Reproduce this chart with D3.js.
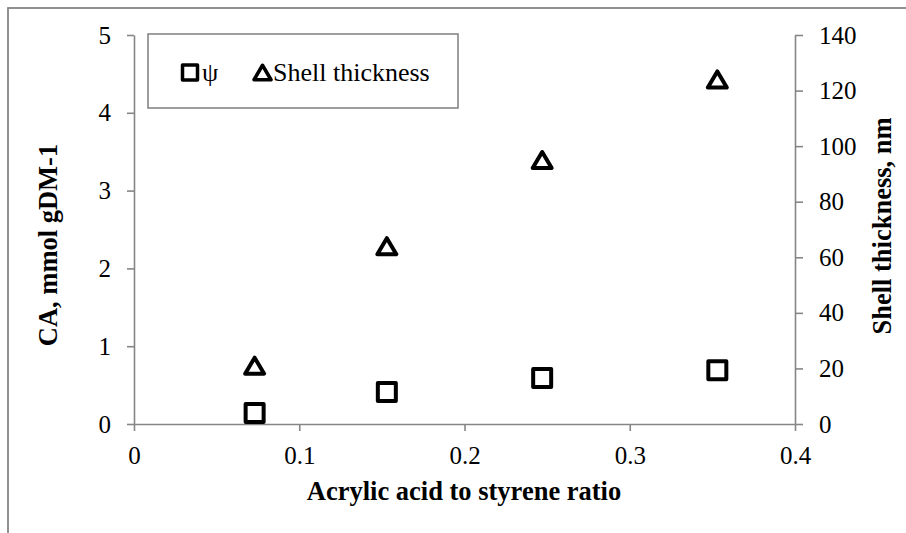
<!DOCTYPE html>
<html>
<head>
<meta charset="utf-8">
<script src="https://cdn.jsdelivr.net/npm/d3@7"></script>
<style>
  html, body { margin: 0; padding: 0; background: #fff; }
  svg { display: block; }
  text { font-family: "Liberation Serif", "Times New Roman", serif; }
</style>
</head>
<body>
<svg id="chart" width="906" height="533"></svg>
<script>
// Acrylic acid : styrene ratio of each sample
const ratios = [0.073, 0.153, 0.247, 0.353];
// ψ, CA in mmol gDM-1 (left axis)
const psiValues = [0.14, 0.41, 0.59, 0.69];
// Shell thickness in nm (right axis)
const shellValues = [21, 64, 95, 124];

const xTicks = [0, 0.1, 0.2, 0.3, 0.4];
const leftTicks = [0, 1, 2, 3, 4, 5];
const rightTicks = [0, 20, 40, 60, 80, 100, 120, 140];

const serif = "Liberation Serif";
const axisGrey = "#868686";

const svg = d3.select("#chart");

// outer chart frame
svg.append("rect")
  .attr("x", 8).attr("y", 8)
  .attr("width", 1000).attr("height", 1000)
  .attr("fill", "#fff")
  .attr("stroke", axisGrey)
  .attr("stroke-width", 1.8);

const x = d3.scaleLinear().domain([0, 0.4]).range([134, 795]);
const yL = d3.scaleLinear().domain([0, 5]).range([424, 35]);
const yR = d3.scaleLinear().domain([0, 140]).range([424, 35]);

function styleAxis(g) {
  g.attr("font-family", serif).attr("font-size", 25);
  g.selectAll("path, line").attr("stroke", axisGrey).attr("stroke-width", 1.6);
  g.selectAll("text").attr("fill", "#000");
}

svg.append("g")
  .attr("transform", `translate(0,${yL(0)})`)
  .call(d3.axisBottom(x).tickValues(xTicks).tickFormat(d3.format("~g"))
    .tickSize(7).tickSizeOuter(0).tickPadding(15))
  .call(styleAxis);

svg.append("g")
  .attr("transform", `translate(${x(0)},0)`)
  .call(d3.axisLeft(yL).tickValues(leftTicks).tickFormat(d3.format("d"))
    .tickSize(7).tickSizeOuter(0).tickPadding(16))
  .call(styleAxis);

svg.append("g")
  .attr("transform", `translate(${x(0.4)},0)`)
  .call(d3.axisRight(yR).tickValues(rightTicks).tickFormat(d3.format("d"))
    .tickSize(8).tickSizeOuter(0).tickPadding(16))
  .call(styleAxis);

// axis titles
svg.append("text")
  .attr("x", 464).attr("y", 500)
  .attr("text-anchor", "middle")
  .attr("font-family", serif).attr("font-weight", "bold").attr("font-size", 26.5)
  .text("Acrylic acid to styrene ratio");

svg.append("text")
  .attr("transform", "translate(57,245) rotate(-90)")
  .attr("text-anchor", "middle")
  .attr("font-family", serif).attr("font-weight", "bold").attr("font-size", 26.5)
  .text("CA, mmol gDM-1");

svg.append("text")
  .attr("transform", "translate(891,226) rotate(-90)")
  .attr("text-anchor", "middle")
  .attr("font-family", serif).attr("font-weight", "bold").attr("font-size", 26.5)
  .text("Shell thickness, nm");

// marker shapes
function squarePath(s) {
  const h = s / 2;
  return `M${-h},${-h}H${h}V${h}H${-h}Z`;
}
function trianglePath(w, h) {
  return `M0,${-h / 2}L${w / 2},${h / 2}L${-w / 2},${h / 2}Z`;
}

const points = ratios.map((r, i) => ({ r, psi: psiValues[i], shell: shellValues[i] }));

svg.append("g").selectAll("path")
  .data(points)
  .join("path")
  .attr("transform", d => `translate(${x(d.r)},${yL(d.psi)})`)
  .attr("d", squarePath(18))
  .attr("fill", "none")
  .attr("stroke", "#000")
  .attr("stroke-width", 4)
  .attr("stroke-linejoin", "round");

svg.append("g").selectAll("path")
  .data(points)
  .join("path")
  .attr("transform", d => `translate(${x(d.r)},${yR(d.shell)})`)
  .attr("d", trianglePath(19, 16))
  .attr("fill", "none")
  .attr("stroke", "#000")
  .attr("stroke-width", 4)
  .attr("stroke-linejoin", "round");

// legend
const legend = svg.append("g");
legend.append("rect")
  .attr("x", 148).attr("y", 34)
  .attr("width", 310).attr("height", 74)
  .attr("fill", "#fff")
  .attr("stroke", axisGrey)
  .attr("stroke-width", 1.6);

legend.append("path")
  .attr("transform", "translate(190,72.5)")
  .attr("d", squarePath(15))
  .attr("fill", "none").attr("stroke", "#000").attr("stroke-width", 3.5)
  .attr("stroke-linejoin", "round");
legend.append("text")
  .attr("x", 202).attr("y", 81)
  .attr("font-family", serif).attr("font-size", 26)
  .text("ψ");

legend.append("path")
  .attr("transform", "translate(262.5,72.5)")
  .attr("d", trianglePath(17, 14.5))
  .attr("fill", "none").attr("stroke", "#000").attr("stroke-width", 3.5)
  .attr("stroke-linejoin", "round");
legend.append("text")
  .attr("x", 273).attr("y", 81)
  .attr("font-family", serif).attr("font-size", 26)
  .text("Shell thickness");
</script>
</body>
</html>
